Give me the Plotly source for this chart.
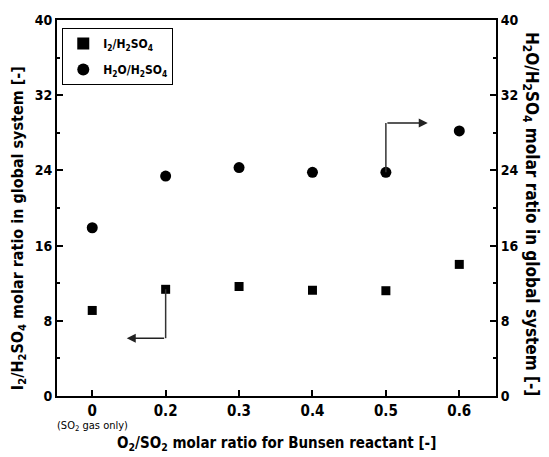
import plotly.graph_objects as go

categories = ["0", "0.2", "0.3", "0.4", "0.5", "0.6"]
i2_h2so4 = [9.1, 11.35, 11.65, 11.25, 11.2, 14.0]
h2o_h2so4 = [17.9, 23.4, 24.3, 23.8, 23.8, 28.2]
y_ticks = [0, 8, 16, 24, 32, 40]

# arrow guides (category index, value)
left_arrow = {"x0": 1, "y0": 11.35, "ycorner": 6.15, "x1": 0.47}
right_arrow = {"x0": 4, "y0": 23.8, "ycorner": 29.05, "x1": 4.57}

xidx = list(range(len(categories)))
FONT = "Liberation Sans Narrow, DejaVu Sans Condensed, Liberation Sans, Arial, sans-serif"

fig = go.Figure()
fig.add_trace(go.Scatter(
    x=xidx, y=i2_h2so4, mode="markers", name="I<sub>2</sub>/H<sub>2</sub>SO<sub>4</sub>",
    legendgroup="a",
    marker=dict(symbol="square", size=9, color="black")))
fig.add_trace(go.Scatter(
    x=xidx, y=h2o_h2so4, mode="markers", name="H<sub>2</sub>O/H<sub>2</sub>SO<sub>4</sub>",
    legendgroup="b",
    marker=dict(symbol="circle", size=11, color="black"), yaxis="y2"))

# arrows
for a in (left_arrow, right_arrow):
    fig.add_shape(type="line", xref="x", yref="y", x0=a["x0"], x1=a["x0"],
                  y0=a["y0"], y1=a["ycorner"], line=dict(color="#333", width=1.5))
    fig.add_annotation(x=a["x1"], y=a["ycorner"], ax=a["x0"], ay=a["ycorner"],
                       xref="x", yref="y", axref="x", ayref="y", text="",
                       showarrow=True, arrowhead=2, arrowsize=1.2, arrowwidth=1.5,
                       arrowcolor="#222")

axis_common = dict(showline=True, linecolor="black", linewidth=2, showgrid=False,
                   zeroline=False, ticks="inside", ticklen=6, tickwidth=1.5,
                   tickcolor="black")
tickfont_y = dict(family=FONT, size=14, color="black", weight="bold")
tickfont_x = dict(family=FONT, size=15, color="black", weight="bold")

fig.update_layout(
    width=549, height=457, autosize=False,
    margin=dict(l=57, r=53, t=13, b=61),
    paper_bgcolor="white", plot_bgcolor="white",
    font=dict(family=FONT, color="black"),
    xaxis=dict(**axis_common, range=[-0.48, 5.5], tickmode="array", tickvals=xidx,
               ticktext=categories, mirror=True, tickfont=tickfont_x),
    yaxis=dict(**axis_common, range=[0, 40], tickvals=y_ticks, mirror=True,
               tickfont=tickfont_y,
               minor=dict(ticks="inside", ticklen=3, dtick=4, tickcolor="black")),
    yaxis2=dict(**axis_common, range=[0, 40], tickvals=y_ticks, overlaying="y", side="right",
                tickfont=tickfont_y,
                minor=dict(ticks="inside", ticklen=3, dtick=4, tickcolor="black")),
    legend=dict(x=0.012, y=0.979, xanchor="left", yanchor="top",
                bordercolor="black", borderwidth=1, bgcolor="white",
                font=dict(family=FONT, size=12, color="black", weight="bold"),
                itemsizing="constant", tracegroupgap=7),
    showlegend=True,
)

fig.add_annotation(x=0, y=-0.055, xref="x", yref="paper", text="(SO<sub>2</sub> gas only)",
                   showarrow=False, font=dict(family=FONT, size=11, color="black"),
                   yanchor="top")
fig.add_annotation(x=0.5, y=-0.097, xref="paper", yref="paper",
                   text="O<sub>2</sub>/SO<sub>2</sub> molar ratio for Bunsen reactant [-]",
                   showarrow=False, yanchor="top",
                   font=dict(family=FONT, size=15, color="black", weight="bold"))
fig.add_annotation(x=-0.089, y=0.446, xref="paper", yref="paper", textangle=-90,
                   text="I<sub>2</sub>/H<sub>2</sub>SO<sub>4</sub> molar ratio in global system [-]",
                   showarrow=False, xanchor="center", yanchor="middle",
                   font=dict(family=FONT, size=16, color="black", weight="bold"))
fig.add_annotation(x=1.08, y=0.484, xref="paper", yref="paper", textangle=90,
                   text="H<sub>2</sub>O/H<sub>2</sub>SO<sub>4</sub> molar ratio in global system [-]",
                   showarrow=False, xanchor="center", yanchor="middle",
                   font=dict(family=FONT, size=17, color="black", weight="bold"))

fig.write_html("out.html", config={"displayModeBar": False},
               post_script="document.body.style.margin='0';document.body.style.padding='0';")
